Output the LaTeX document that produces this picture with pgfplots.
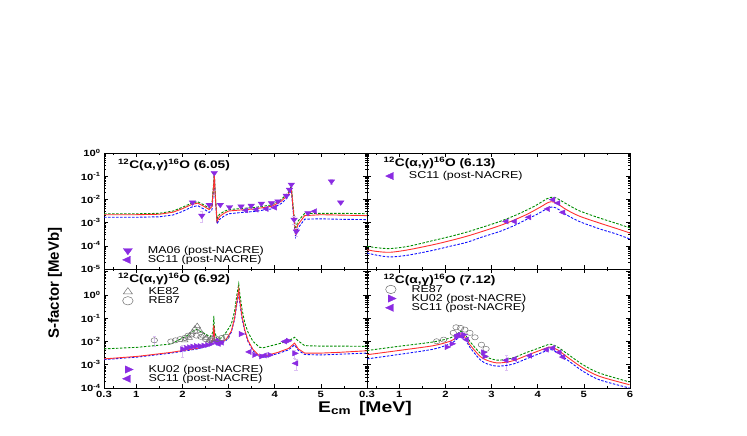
\documentclass[border=0pt]{standalone}
\usepackage{fontspec}
\setmainfont{Liberation Sans}[FakeStretch=1.25]
\newfontfamily\plainsans{Liberation Sans}
\usepackage{pgfplots}
\pgfplotsset{compat=1.18}
\definecolor{grn}{HTML}{008C00}
\definecolor{rd}{HTML}{FF3030}
\definecolor{blu}{HTML}{1010FF}
\definecolor{vio}{HTML}{8A2BE2}
\definecolor{errc}{HTML}{DCC0F4}
\definecolor{opn}{HTML}{707070}

\pgfplotsset{
  panel/.style={scale only axis, width=263pt, xmin=0.3, xmax=6,
    xtick={0.3,1,2,3,4,5,6}, minor xtick={0.5,1.5,2.5,3.5,4.5,5.5},
    major tick length=4pt, minor tick length=2pt, unbounded coords=jump,
    tick style={black, line width=0.5pt}, axis line style={line width=0.7pt},
    tick label style={font=\bfseries\fontsize{9}{9}\selectfont},
    legend style={draw=none, fill=none, inner sep=0pt, column sep=15pt,
      font=\fontsize{10}{10}\selectfont, row sep=-0.5pt, nodes={inner sep=0.5pt}},
    legend cell align=left, legend image post style={mark size=4.2pt}},
  toprow/.style={height=116pt, ymin=1e-5, ymax=1, xticklabels={},
    ytick={1e-5,1e-4,1e-3,1e-2,1e-1,1},
    minor ytick={2e-5,3e-5,4e-5,5e-5,6e-5,7e-5,8e-5,9e-5,
      2e-4,3e-4,4e-4,5e-4,6e-4,7e-4,8e-4,9e-4,
      2e-3,3e-3,4e-3,5e-3,6e-3,7e-3,8e-3,9e-3,
      2e-2,3e-2,4e-2,5e-2,6e-2,7e-2,8e-2,9e-2,
      0.2,0.3,0.4,0.5,0.6,0.7,0.8,0.9}},
  botrow/.style={height=119pt, ymin=1e-4, ymax=13,
    ytick={1e-4,1e-3,1e-2,1e-1,1,10},
    minor ytick={2e-4,3e-4,4e-4,5e-4,6e-4,7e-4,8e-4,9e-4,
      2e-3,3e-3,4e-3,5e-3,6e-3,7e-3,8e-3,9e-3,
      2e-2,3e-2,4e-2,5e-2,6e-2,7e-2,8e-2,9e-2,
      0.2,0.3,0.4,0.5,0.6,0.7,0.8,0.9,2,3,4,5,6,7,8,9}},
}
\tikzset{
  gcurve/.style={color=grn, line width=0.9pt, dash pattern=on 2.5pt off 1.5pt},
  rcurve/.style={color=rd, line width=0.9pt, solid},
  bcurve/.style={color=blu, line width=0.9pt, dash pattern=on 2.5pt off 1.5pt},
  markdn/.style={xscale=1.25, rotate=180, fill=vio, draw=vio},
  marklf/.style={xscale=1.25, rotate=90, fill=vio, draw=vio},
  markrt/.style={xscale=1.25, rotate=-90, fill=vio, draw=vio},
  markop/.style={xscale=1.25, draw=opn, line width=0.5pt},
  ebar/.style={draw=errc, line width=0.6pt, mark=-, mark size=1.6pt,
    mark options={draw=errc, solid}},
  ttl/.style={anchor=west, font=\bfseries\fontsize{11}{11}\selectfont},
}

\begin{document}
\begin{tikzpicture}
\useasboundingbox (0,0) rectangle (747pt,436pt);

% ---------------- top left: 6.05 ----------------
\begin{semilogyaxis}[panel, toprow, at={(104pt,167pt)}, anchor=south west,
  yticklabels={10\textsuperscript{-5},10\textsuperscript{-4},10\textsuperscript{-3},
    10\textsuperscript{-2},10\textsuperscript{-1},10\textsuperscript{0}},
  legend style={at={(axis description cs:0.07,0.035)}, anchor=south west}]
% error bars: low and high ends of each bar
\addplot[ebar, forget plot] coordinates {(2.42,1.0e-3) (2.42,3.0e-3) (2.42,nan)
  (4.47,2.67e-4) (4.47,5.67e-4) (4.47,nan) (5.23,4.53e-2) (5.23,7.53e-2) (5.23,nan)
  (4.42,8.5e-4) (4.42,1.85e-3)};
\addplot[bcurve, forget plot] coordinates {(0.3,1.70e-3) (1.0,1.70e-3) (1.5,1.78e-3)
  (1.8,2.14e-3) (2.0,3.02e-3) (2.2,4.68e-3) (2.33,5.37e-3) (2.45,3.98e-3) (2.58,2.75e-3)
  (2.64,3.55e-3) (2.68,3.98e-2) (2.69,0.132) (2.71,1.26e-2) (2.75,8.91e-4) (2.8,1.35e-3)
  (2.9,1.91e-3) (3.0,2.40e-3) (3.3,2.75e-3) (3.56,3.02e-3) (3.93,3.89e-3) (4.14,6.61e-3)
  (4.29,1.26e-2) (4.36,2.51e-2) (4.39,5.01e-3) (4.45,2.51e-4) (4.5,5.62e-4) (4.65,1.41e-3)
  (5.0,1.45e-3) (5.5,1.38e-3) (6.0,1.35e-3)};
\addplot[gcurve, forget plot] coordinates {(0.3,2.40e-3) (1.0,2.40e-3) (1.5,2.51e-3)
  (1.8,3.16e-3) (2.0,4.57e-3) (2.2,6.92e-3) (2.33,7.94e-3) (2.45,6.03e-3) (2.58,4.17e-3)
  (2.64,6.31e-3) (2.68,6.31e-2) (2.69,0.145) (2.71,2.0e-2) (2.75,1.41e-3) (2.8,2.24e-3)
  (2.9,3.02e-3) (3.0,3.63e-3) (3.3,4.07e-3) (3.56,4.47e-3) (3.93,5.75e-3) (4.14,9.77e-3)
  (4.29,1.91e-2) (4.36,3.80e-2) (4.39,7.94e-3) (4.45,5.01e-4) (4.5,1.12e-3) (4.65,2.51e-3)
  (5.0,2.51e-3) (5.5,2.51e-3) (6.0,2.40e-3)};
\addplot[rcurve, forget plot] coordinates {(0.3,2.19e-3) (1.0,2.19e-3) (1.5,2.29e-3)
  (1.8,2.82e-3) (2.0,3.98e-3) (2.2,6.03e-3) (2.33,6.92e-3) (2.45,5.25e-3) (2.58,3.63e-3)
  (2.64,5.01e-3) (2.68,5.01e-2) (2.69,0.138) (2.71,1.58e-2) (2.75,1.12e-3) (2.8,1.78e-3)
  (2.9,2.51e-3) (3.0,3.16e-3) (3.3,3.55e-3) (3.56,3.89e-3) (3.93,5.01e-3) (4.14,8.32e-3)
  (4.29,1.58e-2) (4.36,3.16e-2) (4.39,6.31e-3) (4.45,3.55e-4) (4.5,7.94e-4) (4.65,2.0e-3)
  (5.0,2.19e-3) (5.5,2.09e-3) (6.0,2.0e-3)};
\addplot[only marks, mark=triangle*, mark size=3pt, mark options={markdn}] coordinates {
  (2.22,7.41e-3) (2.42,2.0e-3) (2.58,5.89e-3) (2.69,0.138)
  (2.82,5.89e-3) (3.02,4.68e-3) (3.27,5.01e-3) (3.49,5.37e-3) (3.71,6.61e-3) (3.93,6.92e-3)
  (4.07,8.32e-3) (4.25,1.45e-2) (4.32,2.63e-2) (4.36,4.37e-2) (4.42,1.35e-3) (4.47,4.17e-4)
  (4.72,2.57e-3) (5.23,6.03e-2) (5.43,7.41e-3)};
\addlegendentry{MA06 (post-NACRE)}
\addplot[only marks, mark=triangle*, mark size=3pt, mark options={marklf}] coordinates {
  (3.38,3.39e-3) (3.60,3.63e-3) (3.82,3.89e-3) (4.0,4.47e-3) (4.87,3.09e-3)};
\addlegendentry{SC11 (post-NACRE)}
\node[ttl] at (axis description cs:0.04,0.897)
  {\textsuperscript{12}C(α,γ)\textsuperscript{16}O (6.05)};
\end{semilogyaxis}

% ---------------- top right: 6.13 ----------------
\begin{semilogyaxis}[panel, toprow, at={(367pt,167pt)}, anchor=south west, yticklabels={},
  legend style={at={(axis description cs:0.07,0.845)}, anchor=north west}]
\addplot[bcurve, smooth, forget plot] coordinates {(0.3,4.90e-5) (0.5,3.98e-5) (0.8,3.31e-5)
  (1.2,3.98e-5) (1.74,6.46e-5) (2.1,9.55e-5) (2.46,1.41e-4) (2.8,2.40e-4) (3.18,4.17e-4)
  (3.5,7.59e-4) (3.75,1.35e-3) (3.95,2.09e-3) (4.11,3.16e-3) (4.2,3.98e-3) (4.29,4.68e-3)
  (4.4,4.27e-3) (4.62,2.19e-3) (4.9,1.12e-3) (5.34,5.37e-4) (5.7,3.24e-4) (6.0,1.95e-4)};
\addplot[gcurve, smooth, forget plot] coordinates {(0.3,9.55e-5) (0.5,8.32e-5) (0.8,7.59e-5)
  (1.2,9.55e-5) (1.74,1.70e-4) (2.1,2.51e-4) (2.46,3.89e-4) (2.8,6.31e-4) (3.18,1.12e-3)
  (3.5,2.0e-3) (3.75,3.39e-3) (3.95,5.37e-3) (4.11,8.32e-3) (4.2,1.07e-2) (4.29,1.23e-2)
  (4.4,1.15e-2) (4.62,6.46e-3) (4.9,3.24e-3) (5.34,1.58e-3) (5.7,9.33e-4) (6.0,5.89e-4)};
\addplot[rcurve, smooth, forget plot] coordinates {(0.3,6.76e-5) (0.5,5.75e-5) (0.8,5.25e-5)
  (1.2,6.76e-5) (1.74,1.12e-4) (2.1,1.66e-4) (2.46,2.57e-4) (2.8,4.17e-4) (3.18,7.41e-4)
  (3.5,1.32e-3) (3.75,2.19e-3) (3.95,3.55e-3) (4.11,5.37e-3) (4.2,6.92e-3) (4.29,7.94e-3)
  (4.4,7.08e-3) (4.62,3.63e-3) (4.9,1.91e-3) (5.34,9.55e-4) (5.7,5.62e-4) (6.0,3.55e-4)};
\addplot[only marks, mark=triangle*, mark size=3pt, mark options={marklf}] coordinates {
  (3.32,1.12e-3) (3.50,1.12e-3) (3.81,1.70e-3) (4.22,3.89e-3)
  (4.33,9.77e-3) (4.44,6.92e-3) (4.55,2.75e-3)};
\addlegendentry{SC11 (post-NACRE)}
\node[ttl] at (axis description cs:0.05,0.914)
  {\textsuperscript{12}C(α,γ)\textsuperscript{16}O (6.13)};
\end{semilogyaxis}

% ---------------- bottom left: 6.92 ----------------
\begin{semilogyaxis}[panel, botrow, at={(104pt,48pt)}, anchor=south west,
  xticklabels={0.3,1,2,3,4,5,},
  yticklabels={10\textsuperscript{-4},10\textsuperscript{-3},10\textsuperscript{-2},
    10\textsuperscript{-1},10\textsuperscript{0},},
  legend style={at={(axis description cs:0.07,0.035)}, anchor=south west}]
\addplot[ebar, forget plot] coordinates {(2.0,2.18e-3) (2.0,7.18e-3) (2.0,nan)
  (4.43,1.89e-3) (4.43,4.29e-3) (4.43,nan) (4.46,5.5e-4) (4.46,1.75e-3) (4.46,nan)
  (1.39,6.2e-3) (1.39,1.62e-2)};
\addplot[bcurve, forget plot] coordinates {(0.3,1.66e-3) (1.03,2.14e-3) (1.75,3.16e-3)
  (2.33,4.79e-3) (2.6,6.92e-3) (2.66,1.12e-2) (2.68,4.47e-2) (2.70,1.12e-2) (2.75,6.92e-3)
  (2.84,8.13e-3) (2.95,1.12e-2) (3.06,2.51e-2) (3.13,8.91e-2) (3.18,0.398) (3.22,1.32)
  (3.24,0.501) (3.29,0.1) (3.35,2.82e-2) (3.42,1.0e-2) (3.53,3.98e-3) (3.67,2.19e-3)
  (3.75,2.09e-3) (4.07,3.02e-3) (4.3,4.37e-3) (4.43,7.08e-3) (4.51,4.17e-3) (4.65,2.75e-3)
  (5.0,2.63e-3) (5.38,2.82e-3) (6.0,3.16e-3)};
\addplot[gcurve, forget plot] coordinates {(0.3,4.79e-3) (1.03,5.62e-3) (1.75,7.76e-3)
  (2.1,1.78e-2) (2.29,3.39e-2) (2.5,2.09e-2) (2.6,1.58e-2) (2.66,2.51e-2) (2.68,0.126)
  (2.70,2.51e-2) (2.75,1.29e-2) (2.84,1.41e-2) (2.95,2.51e-2) (3.06,5.62e-2) (3.13,0.200)
  (3.18,1.0) (3.22,2.95) (3.24,1.26) (3.29,0.251) (3.35,6.31e-2) (3.42,2.51e-2) (3.53,1.0e-2)
  (3.67,5.62e-3) (3.75,5.37e-3) (4.07,7.76e-3) (4.3,1.05e-2) (4.43,1.51e-2) (4.51,1.05e-2)
  (4.65,6.61e-3) (5.0,6.31e-3) (5.38,6.31e-3) (6.0,6.17e-3)};
\addplot[rcurve, forget plot] coordinates {(0.3,1.78e-3) (1.03,2.29e-3) (1.75,3.39e-3)
  (2.33,5.13e-3) (2.6,7.41e-3) (2.66,1.26e-2) (2.68,5.01e-2) (2.70,1.26e-2) (2.75,7.59e-3)
  (2.84,8.91e-3) (2.95,1.26e-2) (3.06,2.82e-2) (3.13,0.1) (3.18,0.501) (3.22,1.78)
  (3.24,0.631) (3.29,0.126) (3.35,3.16e-2) (3.42,1.12e-2) (3.53,4.47e-3) (3.67,2.40e-3)
  (3.75,2.29e-3) (4.07,3.39e-3) (4.3,5.01e-3) (4.43,8.51e-3) (4.51,4.79e-3) (4.65,3.16e-3)
  (5.0,3.16e-3) (5.38,3.39e-3) (6.0,3.98e-3)};
\addplot[only marks, mark=triangle*, mark size=3pt, mark options={markrt}] coordinates {
  (2.0,4.68e-3) (2.08,5.25e-3) (2.15,5.62e-3) (2.22,6.03e-3)
  (2.3,6.31e-3) (2.38,6.31e-3) (2.46,6.61e-3) (2.54,7.08e-3) (2.62,7.94e-3) (2.77,1.07e-2)
  (3.27,2.09e-2) (3.56,2.63e-3) (3.71,2.29e-3) (3.89,2.63e-3) (4.29,1.07e-2) (4.43,3.09e-3)};
\addlegendentry{KU02 (post-NACRE)}
\addplot[only marks, mark=triangle*, mark size=3pt, mark options={marklf}] coordinates {
  (2.72,1.0e-2) (2.78,7.94e-3) (2.85,8.91e-3) (3.45,3.55e-3)
  (3.78,2.51e-3) (4.22,1.0e-2) (4.46,1.15e-3)};
\addlegendentry{SC11 (post-NACRE)}
\node[ttl] at (axis description cs:0.04,0.916)
  {\textsuperscript{12}C(α,γ)\textsuperscript{16}O (6.92)};
\end{semilogyaxis}
% overlay holding the older data sets of the 6.92 panel
\begin{semilogyaxis}[panel, botrow, at={(104pt,48pt)}, anchor=south west, hide axis,
  legend style={at={(axis description cs:0.07,0.85)}, anchor=north west}]
\addplot[only marks, mark=triangle, mark size=3pt, mark options={markop}] coordinates {
  (2.05,1.12e-2) (2.15,1.41e-2) (2.22,2.51e-2) (2.27,3.55e-2)
  (2.32,4.57e-2) (2.38,2.82e-2) (2.45,1.78e-2) (2.52,1.41e-2) (2.58,1.12e-2) (2.64,1.26e-2)};
\addlegendentry{KE82}
\addplot[only marks, mark=o, mark size=2.6pt, mark options={markop}] coordinates {
  (1.39,1.12e-2) (1.75,1.0e-2) (1.85,1.12e-2) (1.95,1.26e-2)
  (2.05,1.41e-2) (2.12,1.78e-2) (2.2,2.0e-2) (2.3,1.78e-2) (2.4,1.58e-2) (2.5,1.26e-2)
  (2.6,1.12e-2) (2.75,1.26e-2) (2.85,1.41e-2) (2.95,1.58e-2)};
\addlegendentry{RE87}
\end{semilogyaxis}

% ---------------- bottom right: 7.12 ----------------
\begin{semilogyaxis}[panel, botrow, at={(367pt,48pt)}, anchor=south west, yticklabels={},
  xticklabels={0.3,1,2,3,4,5,6},
  legend style={at={(axis description cs:0.07,0.87)}, anchor=north west}]
\addplot[ebar, forget plot] coordinates {(3.32,5.5e-4) (3.32,2.55e-3)};
\addplot[bcurve, smooth, forget plot] coordinates {(0.3,1.78e-3) (1.02,2.82e-3) (1.74,4.68e-3)
  (2.1,7.94e-3) (2.22,1.12e-2) (2.34,1.78e-2) (2.45,1.05e-2) (2.53,5.62e-3) (2.75,1.66e-3)
  (2.9,1.10e-3) (3.11,8.71e-4) (3.32,9.33e-4) (3.5,1.12e-3) (3.75,1.78e-3) (4.0,2.82e-3)
  (4.19,3.98e-3) (4.29,4.47e-3) (4.45,3.16e-3) (4.62,1.74e-3) (4.98,5.25e-4) (5.34,2.24e-4)
  (5.99,1.0e-4)};
\addplot[gcurve, smooth, forget plot] coordinates {(0.3,4.07e-3) (1.02,6.31e-3) (1.74,9.55e-3)
  (2.1,1.41e-2) (2.22,1.86e-2) (2.34,2.69e-2) (2.45,1.70e-2) (2.53,1.0e-2) (2.75,3.16e-3)
  (2.9,2.09e-3) (3.11,1.58e-3) (3.32,1.70e-3) (3.5,2.09e-3) (3.75,3.31e-3) (4.0,5.01e-3)
  (4.19,6.92e-3) (4.29,7.59e-3) (4.45,5.50e-3) (4.62,3.16e-3) (4.98,1.0e-3) (5.34,4.37e-4)
  (5.99,1.82e-4)};
\addplot[rcurve, smooth, forget plot] coordinates {(0.3,2.69e-3) (1.02,4.17e-3) (1.74,6.61e-3)
  (2.1,1.02e-2) (2.22,1.41e-2) (2.34,2.14e-2) (2.45,1.29e-2) (2.53,7.24e-3) (2.75,2.29e-3)
  (2.9,1.55e-3) (3.11,1.20e-3) (3.32,1.29e-3) (3.5,1.55e-3) (3.75,2.45e-3) (4.0,3.80e-3)
  (4.19,5.25e-3) (4.29,5.75e-3) (4.45,4.17e-3) (4.62,2.29e-3) (4.98,7.24e-4) (5.34,3.16e-4)
  (5.99,1.38e-4)};
\addplot[only marks, mark=o, mark size=2.6pt, mark options={markop}] coordinates {
  (1.81,1.02e-2) (1.96,1.20e-2) (2.17,2.34e-2) (2.23,4.07e-2)
  (2.33,3.80e-2) (2.42,3.24e-2) (2.53,2.34e-2) (2.64,1.51e-2) (2.78,7.24e-3) (2.88,4.79e-3)};
\addlegendentry{RE87}
\addplot[only marks, mark=triangle*, mark size=3pt, mark options={markrt}] coordinates {
  (2.03,5.75e-3) (2.14,7.94e-3) (2.24,1.55e-2) (2.39,1.95e-2)
  (2.82,3.39e-3) (2.85,2.29e-3)};
\addlegendentry{KU02 (post-NACRE)}
\addplot[only marks, mark=triangle*, mark size=3pt, mark options={marklf}] coordinates {
  (2.28,1.95e-2) (2.35,1.66e-2) (2.46,1.20e-2) (3.32,1.55e-3)
  (3.50,1.78e-3) (3.83,2.45e-3) (4.19,4.47e-3) (4.33,5.25e-3) (4.47,3.39e-3) (4.55,2.14e-3)};
\addlegendentry{SC11 (post-NACRE)}
\node[ttl] at (axis description cs:0.05,0.91)
  {\textsuperscript{12}C(α,γ)\textsuperscript{16}O (7.12)};
\end{semilogyaxis}

\node[rotate=90, font=\plainsans\bfseries\fontsize{15}{15}\selectfont] at (55pt,153pt) {S-factor [MeVb]};
\node[font=\bfseries\fontsize{15.5}{15.5}\selectfont] at (365pt,28pt) {E\textsubscript{cm}\hspace{0.5em}[MeV]};
\end{tikzpicture}
\end{document}
